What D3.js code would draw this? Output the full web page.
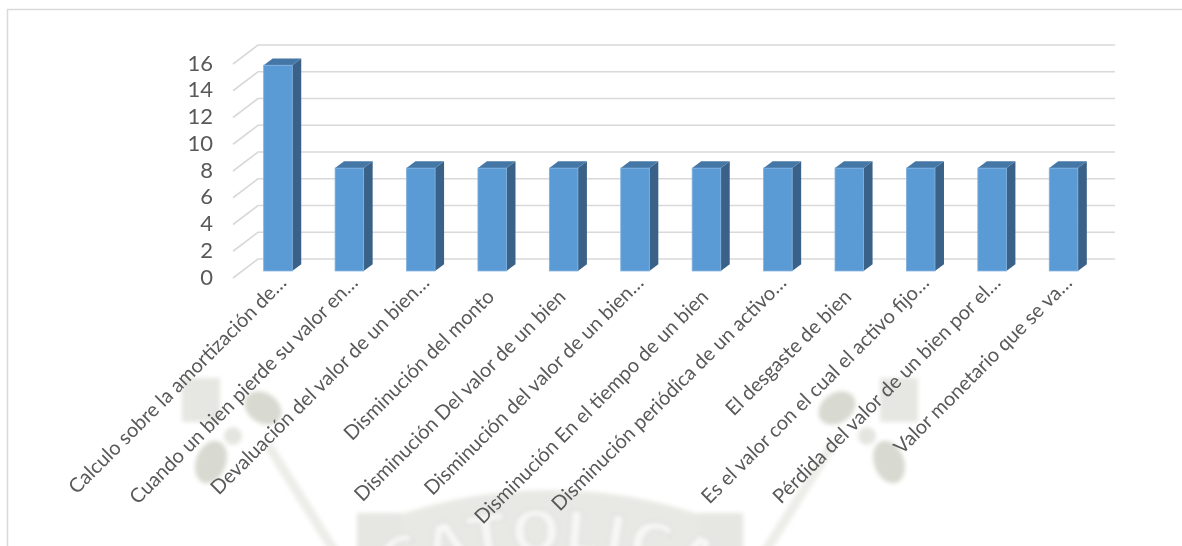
<!DOCTYPE html>
<html>
<head>
<meta charset="utf-8">
<script src="https://cdn.jsdelivr.net/npm/d3@7"></script>
<style>
  html, body { margin: 0; padding: 0; background: #ffffff; }
  svg { display: block; }
</style>
</head>
<body>
<svg id="chart" width="1182" height="546"></svg>
<script>
// Category labels (as truncated on the axis)
const categories = [
  "Calculo sobre la amortización de…",
  "Cuando un bien pierde su valor en…",
  "Devaluación del valor de un bien…",
  "Disminución del monto",
  "Disminución Del valor de un bien",
  "Disminución del valor de un bien…",
  "Disminución En el tiempo de un bien",
  "Disminución periódica de un activo…",
  "El desgaste de bien",
  "Es el valor con el cual el activo fijo…",
  "Pérdida del valor de un bien por el…",
  "Valor monetario que se va…"
];

// Percentage of responses per category
const values = [15.38, 7.69, 7.69, 7.69, 7.69, 7.69, 7.69, 7.69, 7.69, 7.69, 7.69, 7.69];

// Value axis ticks
const yTicks = [0, 2, 4, 6, 8, 10, 12, 14, 16];

const W = 1182, H = 546;
const svg = d3.select("#chart");

// Oblique projection for the 3D box: depth vector from front plane to back wall
const depth = { dx: 25, dy: -19 };
const barDepth = [0.37, 0.73];   // bars occupy this slice of the box depth

const x = d3.scaleBand()
  .domain(categories)
  .range([233, 1090])
  .paddingInner(0.6)
  .paddingOuter(0.3);

const y = d3.scaleLinear().domain([0, 16]).range([278, 64]);

const FONT = "Lato, 'Open Sans', sans-serif";
const TEXT = "#595959";

// ---- faint background emblem ----
const defs = svg.append("defs");
defs.append("filter").attr("id", "soft")
  .append("feGaussianBlur").attr("stdDeviation", 2.2);

const wm = svg.append("g").attr("filter", "url(#soft)");

const cx = 550, cy = 960;
const arcBand = d3.arc()
  .innerRadius(395)
  .outerRadius(470)
  .startAngle(-24 * Math.PI / 180)
  .endAngle(24 * Math.PI / 180);
wm.append("path")
  .attr("transform", `translate(${cx},${cy})`)
  .attr("d", arcBand())
  .attr("fill", "#e8e8e4");

// left and right ornaments (mirrored about the centre line)
[-1, 1].forEach(side => {
  const mx = v => cx + side * (cx - v);
  const g = wm.append("g");
  g.append("rect")
    .attr("x", Math.min(mx(182), mx(220))).attr("y", 378)
    .attr("width", 38).attr("height", 44)
    .attr("fill", "#e6e6e2");
  g.append("ellipse")
    .attr("cx", mx(263)).attr("cy", 408).attr("rx", 20).attr("ry", 15)
    .attr("transform", `rotate(${side * -35},${mx(263)},408)`)
    .attr("fill", "#d8d9d0");
  g.append("ellipse")
    .attr("cx", mx(211)).attr("cy", 462).attr("rx", 15).attr("ry", 22)
    .attr("transform", `rotate(${side * -20},${mx(211)},462)`)
    .attr("fill", "#d8d9d0");
  g.append("circle")
    .attr("cx", mx(233)).attr("cy", 436).attr("r", 9)
    .attr("fill", "#e4e4e0");
  g.append("line")
    .attr("x1", mx(268)).attr("y1", 445).attr("x2", mx(340)).attr("y2", 560)
    .attr("stroke", "#ececE8").attr("stroke-width", 9);
  g.append("rect")
    .attr("x", Math.min(mx(357), mx(402))).attr("y", 513)
    .attr("width", 45).attr("height", 40)
    .attr("fill", "#e6e6e2");
});

defs.append("path").attr("id", "wmArc")
  .attr("d", `M ${cx - 408} ${cy} A 408 408 0 0 1 ${cx + 408} ${cy}`);
wm.append("text")
  .attr("font-family", "'DejaVu Sans', sans-serif")
  .attr("font-weight", "bold")
  .attr("font-size", 58)
  .attr("letter-spacing", 2)
  .attr("fill", "#f7f7f5")
  .attr("stroke", "#d9d9d5")
  .attr("stroke-width", 1.5)
  .append("textPath")
  .attr("href", "#wmArc")
  .attr("startOffset", "50%")
  .attr("text-anchor", "middle")
  .text("CATOLICA");

// ---- chart frame ----
svg.append("path")
  .attr("d", `M 7.5 ${H} L 7.5 9.5 L ${W} 9.5`)
  .attr("fill", "none")
  .attr("stroke", "#d9d9d9")
  .attr("stroke-width", 1.5);

// ---- gridlines: side-wall diagonal + back-wall horizontal ----
const x0 = x.range()[0], x1 = x.range()[1];
svg.append("g")
  .selectAll("path")
  .data(yTicks)
  .join("path")
  .attr("d", v => {
    const yf = y(v);
    return `M ${x0} ${yf} L ${x0 + depth.dx} ${yf + depth.dy} L ${x1 + depth.dx} ${yf + depth.dy}`;
  })
  .attr("fill", "none")
  .attr("stroke", "#d9d9d9")
  .attr("stroke-width", 1.6);

// ---- value axis labels ----
svg.append("g")
  .selectAll("text")
  .data(yTicks)
  .join("text")
  .attr("x", 213)
  .attr("y", v => y(v) + 1)
  .attr("text-anchor", "end")
  .attr("dominant-baseline", "middle")
  .attr("font-family", FONT)
  .attr("font-size", 22)
  .attr("fill", TEXT)
  .text(d => d);

// ---- 3D columns ----
const f0 = barDepth[0], f1 = barDepth[1];
const bw = x.bandwidth();
const ddx = (f1 - f0) * depth.dx, ddy = (f1 - f0) * depth.dy;

const bars = svg.append("g")
  .selectAll("g")
  .data(categories.map((c, i) => ({ c, v: values[i] })))
  .join("g");

const fx = d => x(d.c) + f0 * depth.dx;
const fyTop = d => y(d.v) + f0 * depth.dy;
const fyBot = () => y(0) + f0 * depth.dy;

// side face
bars.append("path")
  .attr("d", d => {
    const xl = fx(d) + bw, yt = fyTop(d), yb = fyBot();
    return `M ${xl} ${yt} L ${xl + ddx} ${yt + ddy} L ${xl + ddx} ${yb + ddy} L ${xl} ${yb} Z`;
  })
  .attr("fill", "#3a6288");

// top face
bars.append("path")
  .attr("d", d => {
    const xl = fx(d), yt = fyTop(d);
    return `M ${xl} ${yt} L ${xl + bw} ${yt} L ${xl + bw + ddx} ${yt + ddy} L ${xl + ddx} ${yt + ddy} Z`;
  })
  .attr("fill", "#4577a6");

// front face
bars.append("rect")
  .attr("x", fx)
  .attr("y", fyTop)
  .attr("width", bw)
  .attr("height", d => fyBot() - fyTop(d))
  .attr("fill", "#5b9bd5")
  .attr("stroke", "#7fb0de")
  .attr("stroke-width", 0.8);

// ---- category labels (rotated) ----
svg.append("g")
  .selectAll("text")
  .data(categories)
  .join("text")
  .attr("transform", c => {
    const cxLab = x(c) + bw / 2;
    const cut = c.endsWith("…");
    const ax = cxLab + (cut ? 19 : 12.5);
    const ay = cut ? 284 : 298;
    return `translate(${ax},${ay}) rotate(-45)`;
  })
  .attr("text-anchor", "end")
  .attr("font-family", FONT)
  .attr("font-size", 20)
  .attr("fill", TEXT)
  .text(d => d);
</script>
</body>
</html>
